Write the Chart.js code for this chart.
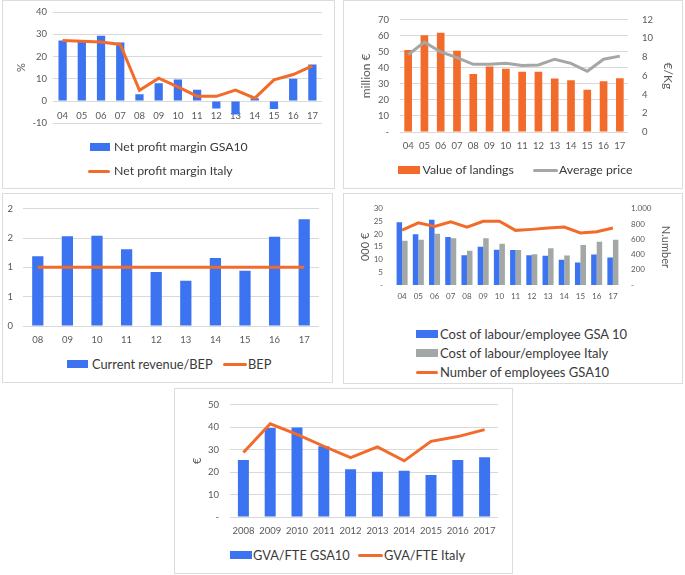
<!DOCTYPE html>
<html>
<head>
<meta charset="utf-8">
<script src="https://cdn.jsdelivr.net/npm/chart.js@4/dist/chart.umd.min.js"></script>
<style>
  body { margin: 0; background: #fff; font-family: Lato, "Liberation Sans", sans-serif; }
  .panel { position: absolute; border: 1px solid #d9dddc; box-sizing: border-box; }
  canvas { position: absolute; }
  .leg { position: absolute; font-size: 12px; color: #3a3a3a; white-space: nowrap; line-height: 14px; }
  .sw { position: absolute; }
</style>
</head>
<body>
<div class="panel" style="left:2px;top:0;width:333px;height:189px"></div>
<div class="panel" style="left:343px;top:0;width:340px;height:189px"></div>
<div class="panel" style="left:2px;top:193px;width:331px;height:190px"></div>
<div class="panel" style="left:343px;top:193px;width:340px;height:191px"></div>
<div class="panel" style="left:174px;top:388px;width:339px;height:186px"></div>

<canvas id="c1" width="334" height="135" style="left:0;top:0"></canvas>
<canvas id="c2" width="339" height="160" style="left:344px;top:0"></canvas>
<canvas id="c3" width="329" height="155" style="left:3px;top:193px"></canvas>
<canvas id="c4" width="340" height="110" style="left:343px;top:193px"></canvas>
<canvas id="c5" width="338" height="155" style="left:174px;top:388px"></canvas>

<script>
// data
const yearsShort = ["04","05","06","07","08","09","10","11","12","13","14","15","16","17"];
const netProfitGSA10 = [27.2, 27.0, 29.3, 26.3, 3.0, 8.0, 9.7, 5.1, -3.3, -6.0, 1.2, -3.6, 10.0, 16.4];
const netProfitItaly = [27.2, 26.9, 26.5, 25.4, 4.8, 10.3, 6.4, 2.2, 2.1, 4.9, 1.3, 9.5, 11.9, 15.8];

const landingsValue = [51.1, 60.3, 61.9, 50.7, 36.1, 40.8, 39.4, 37.5, 37.5, 33.3, 32.3, 26.4, 31.6, 33.5];
const avgPrice = [8.25, 9.6, 8.55, 7.95, 7.23, 7.23, 7.34, 7.1, 7.17, 7.78, 7.34, 6.49, 7.78, 8.11];

const years10 = ["08","09","10","11","12","13","14","15","16","17"];
const revenueBEP = [1.19, 1.53, 1.54, 1.31, 0.92, 0.77, 1.16, 0.94, 1.52, 1.82];
const bepLine = [1, 1, 1, 1, 1, 1, 1, 1, 1, 1];
const revTickLabels = ["0", "1", "1", "2", "2"];

const labourGSA10 = [24.7, 20.0, 25.7, 18.9, 11.7, 15.1, 13.9, 13.8, 11.7, 11.5, 9.9, 8.9, 12.0, 10.8];
const labourItaly = [17.4, 17.8, 20.2, 18.4, 13.5, 18.4, 16.2, 13.8, 12.1, 14.5, 11.6, 15.7, 17.0, 17.8];
const employeesGSA10 = [721, 815, 768, 828, 760, 837, 837, 717, 730, 747, 760, 682, 700, 747];

const yearsFull = ["2008","2009","2010","2011","2012","2013","2014","2015","2016","2017"];
const gvaGSA10 = [25.4, 39.6, 39.9, 31.5, 21.3, 20.2, 20.6, 18.75, 25.4, 26.6];
const gvaItaly = [28.7, 41.5, 36.8, 31.5, 26.4, 31.25, 25.0, 33.7, 35.8, 38.9];

const blue = "#3b73f0";
const orange = "#f26b2a";
const grey = "#a3a7a6";
const tickColor = "#595959";
const gridColor = "#d9d9d9";
const font = "Lato";

const fixW = w => (s => { s.width = w; });
const fixH = h => (s => { s.height = h; });
const dash = v => v === 0 ? "-" : v;

function base(pad) {
  return {
    responsive: false,
    animation: false,
    devicePixelRatio: 1,
    layout: { padding: pad },
    plugins: { legend: { display: false }, tooltip: { enabled: false } }
  };
}
function xAxis(size, padding, extra) {
  return Object.assign({
    grid: { display: false, drawTicks: false },
    border: { display: false },
    ticks: { font: { family: font, size: size }, color: tickColor, padding: padding, maxRotation: 0, autoSkip: false }
  }, extra);
}
function yAxis(min, max, step, size, padding, extra) {
  return Object.assign({
    min: min, max: max,
    grid: { color: gridColor, drawTicks: false },
    border: { display: false },
    ticks: { stepSize: step, font: { family: font, size: size }, color: tickColor, padding: padding }
  }, extra);
}
function axisTitle(text, offset, size) {
  return { display: true, text: text, color: tickColor, font: { family: font, size: size || 11 }, padding: { top: offset, bottom: 0 } };
}

// legend is plain html below each chart
function legend(chart, left, items) {
  items.forEach(it => {
    const ds = chart.data.datasets[it.i];
    const sw = document.createElement("div");
    sw.className = "sw";
    if (it.line) {
      sw.style.cssText = `left:${left + it.x}px;top:${it.y - 1.5}px;width:${it.w}px;height:3px;border-radius:1.5px;background:${ds.borderColor}`;
    } else {
      sw.style.cssText = `left:${left + it.x}px;top:${it.y - 4}px;width:${it.w}px;height:8px;background:${ds.backgroundColor}`;
    }
    document.body.appendChild(sw);
    const t = document.createElement("div");
    t.className = "leg";
    t.textContent = ds.label;
    t.style.left = (left + it.tx) + "px";
    t.style.top = (it.y - 7.5) + "px";
    if (it.fs) t.style.fontSize = it.fs + "px";
    document.body.appendChild(t);
  });
}

// 1. net profit margin
const ch1 = new Chart(document.getElementById("c1"), {
  type: "bar",
  data: {
    labels: yearsShort,
    datasets: [
      { label: "Net profit margin GSA10", data: netProfitGSA10, backgroundColor: blue, barPercentage: 0.43, categoryPercentage: 1, order: 2 },
      { type: "line", label: "Net profit margin Italy", data: netProfitItaly, borderColor: orange, borderWidth: 3, pointRadius: 0, order: 1 }
    ]
  },
  options: Object.assign(base({ left: 0, top: 12, right: 12, bottom: 11 }), {
    scales: {
      x: xAxis(9.5, 9, { position: { y: 0 } }),
      y: yAxis(-10, 40, 10, 9.5, 6, { title: axisTitle("%", 15), afterFit: fixW(53) })
    }
  })
});
legend(ch1, 0, [
  { i: 0, x: 90, w: 20, y: 147, tx: 114, fs: 12.3 },
  { i: 1, x: 88, w: 22, y: 171, tx: 114, fs: 12.3, line: true }
]);

// 2. value of landings / average price
const ch2 = new Chart(document.getElementById("c2"), {
  type: "bar",
  data: {
    labels: yearsShort,
    datasets: [
      { label: "Value of landings", data: landingsValue, backgroundColor: orange, barPercentage: 0.47, categoryPercentage: 1, yAxisID: "y", order: 2 },
      { type: "line", label: "Average price", data: avgPrice, borderColor: grey, borderWidth: 3, pointRadius: 0, yAxisID: "y1", order: 1 }
    ]
  },
  options: Object.assign(base({ left: 0, top: 13, right: 0, bottom: 8 }), {
    scales: {
      x: xAxis(9.5, 8, { afterFit: fixH(20) }),
      y: yAxis(0, 70, 10, 9.5, 11, { title: axisTitle("million €", 15, 12), afterFit: fixW(56) }),
      y1: yAxis(0, 12, 2, 9.5, 14, { position: "right", grid: { display: false, drawTicks: false }, title: axisTitle("€/Kg", 8, 12), afterFit: fixW(55) })
    }
  })
});
ch2.options.scales.y.ticks.callback = dash;
ch2.update();
legend(ch2, 344, [
  { i: 0, x: 54, w: 22, y: 170, tx: 78.5, fs: 12.3 },
  { i: 1, x: 189, w: 25, y: 170, tx: 215, fs: 12.3, line: true }
]);

// 3. current revenue / BEP
const ch3 = new Chart(document.getElementById("c3"), {
  type: "bar",
  data: {
    labels: years10,
    datasets: [
      { label: "Current revenue/BEP", data: revenueBEP, backgroundColor: blue, barPercentage: 0.38, categoryPercentage: 1, order: 2 },
      { type: "line", label: "BEP", data: bepLine, borderColor: orange, borderWidth: 3, pointRadius: 0, order: 1 }
    ]
  },
  options: Object.assign(base({ left: 0, top: 13, right: 13, bottom: 2 }), {
    scales: {
      x: xAxis(9.5, 8, { afterFit: fixH(20) }),
      y: yAxis(0, 2, 0.5, 9.5, 10, { afterFit: fixW(20) })
    }
  })
});
ch3.options.scales.y.ticks.callback = (v, i) => revTickLabels[i];
ch3.update();
legend(ch3, 3, [
  { i: 0, x: 64, w: 21, y: 364, tx: 89, fs: 12.8 },
  { i: 1, x: 220, w: 24, y: 364, tx: 245, fs: 12.8, line: true }
]);

// 4. cost of labour / employees
const ch4 = new Chart(document.getElementById("c4"), {
  type: "bar",
  data: {
    labels: yearsShort,
    datasets: [
      { label: "Cost of labour/employee GSA 10", data: labourGSA10, backgroundColor: blue, barPercentage: 1, categoryPercentage: 0.68, yAxisID: "y", order: 2 },
      { label: "Cost of labour/employee Italy", data: labourItaly, backgroundColor: grey, barPercentage: 1, categoryPercentage: 0.68, yAxisID: "y", order: 2 },
      { type: "line", label: "Number of employees GSA10", data: employeesGSA10, borderColor: orange, borderWidth: 3, pointRadius: 0, yAxisID: "y1", order: 1 }
    ]
  },
  options: Object.assign(base({ left: 0, top: 14, right: 0, bottom: 0 }), {
    scales: {
      x: xAxis(8, 7, { afterFit: fixH(18) }),
      y: yAxis(0, 30, 5, 8, 11, { grid: { display: false, drawTicks: false }, title: axisTitle("000 €", 16), afterFit: fixW(51) }),
      y1: yAxis(0, 1000, 200, 8, 10, { position: "right", grid: { display: false, drawTicks: false }, title: axisTitle("N.umber", 11), afterFit: fixW(62) })
    }
  })
});
ch4.options.scales.y.ticks.callback = dash;
ch4.options.scales.y1.ticks.callback = v => v === 0 ? "-" : v.toLocaleString("de-DE");
ch4.update();
legend(ch4, 343, [
  { i: 0, x: 73, w: 22, y: 334, tx: 97, fs: 13 },
  { i: 1, x: 73, w: 22, y: 353, tx: 97, fs: 13 },
  { i: 2, x: 73, w: 22, y: 372, tx: 97, fs: 13, line: true }
]);

// 5. GVA/FTE
const ch5 = new Chart(document.getElementById("c5"), {
  type: "bar",
  data: {
    labels: yearsFull,
    datasets: [
      { label: "GVA/FTE GSA10", data: gvaGSA10, backgroundColor: blue, barPercentage: 0.41, categoryPercentage: 1, order: 2 },
      { type: "line", label: "GVA/FTE Italy", data: gvaItaly, borderColor: orange, borderWidth: 3, pointRadius: 0, order: 1 }
    ]
  },
  options: Object.assign(base({ left: 0, top: 12, right: 14, bottom: 6 }), {
    scales: {
      x: xAxis(9.5, 8, { afterFit: fixH(20) }),
      y: yAxis(0, 50, 10, 9.5, 11, { title: axisTitle("€", 17), afterFit: fixW(56) })
    }
  })
});
ch5.options.scales.y.ticks.callback = dash;
ch5.update();
legend(ch5, 174, [
  { i: 0, x: 56, w: 22, y: 555, tx: 79, fs: 12.8 },
  { i: 1, x: 184, w: 25, y: 555, tx: 210, fs: 12.8, line: true }
]);
</script>
</body>
</html>
